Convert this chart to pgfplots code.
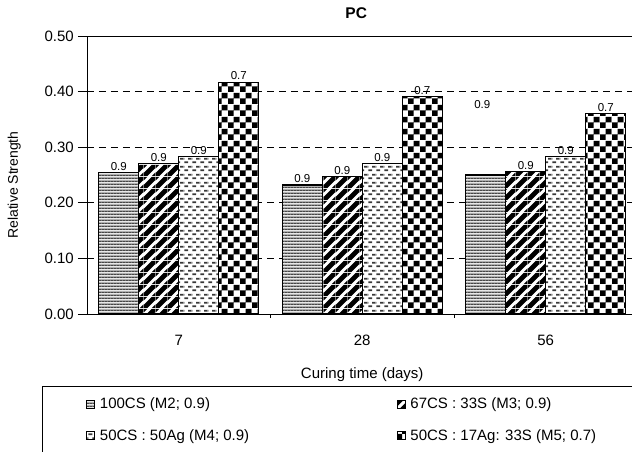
\documentclass[border=0pt]{standalone}
\usepackage{fontspec}
\setmainfont{Liberation Sans}
\usepackage{pgfplots}
\pgfplotsset{compat=1.18}
\usetikzlibrary{patterns}

\pgfdeclarepatterninherentlycolored{hlinesgray}{\pgfqpoint{0pt}{0pt}}{\pgfqpoint{3pt}{3pt}}{\pgfqpoint{3pt}{3pt}}{%
  \pgfsetfillcolor{black!25}\pgfpathrectangle{\pgfqpoint{0pt}{0pt}}{\pgfqpoint{3pt}{3pt}}\pgfusepath{fill}%
  \pgfsetfillcolor{black!72}\pgfpathrectangle{\pgfqpoint{0pt}{0pt}}{\pgfqpoint{3pt}{1.5pt}}\pgfusepath{fill}}

\pgfdeclarepatterninherentlycolored{diagbw}{\pgfqpoint{0pt}{0pt}}{\pgfqpoint{12pt}{12pt}}{\pgfqpoint{12pt}{12pt}}{%
  \pgfsetfillcolor{white}\pgfpathrectangle{\pgfqpoint{0pt}{0pt}}{\pgfqpoint{12pt}{12pt}}\pgfusepath{fill}%
  \pgfsetfillcolor{black}%
  \pgfpathmoveto{\pgfqpoint{0pt}{0pt}}\pgfpathlineto{\pgfqpoint{3.6pt}{0pt}}\pgfpathlineto{\pgfqpoint{12pt}{8.4pt}}%
  \pgfpathlineto{\pgfqpoint{12pt}{12pt}}\pgfpathlineto{\pgfqpoint{8.4pt}{12pt}}\pgfpathlineto{\pgfqpoint{0pt}{3.6pt}}\pgfpathclose
  \pgfpathmoveto{\pgfqpoint{8.4pt}{0pt}}\pgfpathlineto{\pgfqpoint{12pt}{0pt}}\pgfpathlineto{\pgfqpoint{12pt}{3.6pt}}\pgfpathclose
  \pgfpathmoveto{\pgfqpoint{0pt}{8.4pt}}\pgfpathlineto{\pgfqpoint{0pt}{12pt}}\pgfpathlineto{\pgfqpoint{3.6pt}{12pt}}\pgfpathclose
  \pgfusepath{fill}}

\pgfdeclarepatterninherentlycolored{dashdots}{\pgfqpoint{0pt}{0pt}}{\pgfqpoint{8pt}{8pt}}{\pgfqpoint{8pt}{8pt}}{%
  \pgfsetfillcolor{white}\pgfpathrectangle{\pgfqpoint{0pt}{0pt}}{\pgfqpoint{8pt}{8pt}}\pgfusepath{fill}%
  \pgfsetfillcolor{black!78}%
  \pgfpathrectangle{\pgfqpoint{0.5pt}{1pt}}{\pgfqpoint{4pt}{1.9pt}}%
  \pgfpathrectangle{\pgfqpoint{4.5pt}{5pt}}{\pgfqpoint{3.5pt}{1.9pt}}%
  \pgfpathrectangle{\pgfqpoint{0pt}{5pt}}{\pgfqpoint{0.5pt}{1.9pt}}%
  \pgfusepath{fill}}

\pgfdeclarepatterninherentlycolored{checker}{\pgfqpoint{0pt}{0pt}}{\pgfqpoint{12pt}{12pt}}{\pgfqpoint{12pt}{12pt}}{%
  \pgfsetfillcolor{white}\pgfpathrectangle{\pgfqpoint{0pt}{0pt}}{\pgfqpoint{12pt}{12pt}}\pgfusepath{fill}%
  \pgfsetfillcolor{black}%
  \pgfpathrectangle{\pgfqpoint{0pt}{0pt}}{\pgfqpoint{6pt}{6pt}}%
  \pgfpathrectangle{\pgfqpoint{6pt}{6pt}}{\pgfqpoint{6pt}{6pt}}%
  \pgfusepath{fill}}

\newcommand\tickfont{\fontsize{15}{17}\selectfont}
\newcommand\valfont{\fontsize{11.5}{13}\selectfont}
\newcommand\xlabfont{\fontsize{15}{17}\selectfont}
\newcommand\ylabfont{\fontsize{14}{16}\selectfont}
\newcommand\legfont{\fontsize{15}{17}\selectfont}
\newcommand\titfont{\fontsize{15.5}{17}\selectfont\bfseries}

\begin{document}
\begin{tikzpicture}
\begin{axis}[
  at={(0pt,0pt)}, anchor=south west,
  scale only axis, width=550.5pt, height=278pt,
  xmin=-0.5, xmax=2.5, ymin=0, ymax=0.5,
  ybar=0pt, bar width=0.218,
  axis line style={line width=0.9pt, black},
  xtick={0,1,2}, xticklabels={7,28,56},
  minor xtick={0.5,1.5},
  xtick pos=bottom, ytick pos=left,
  tick align=outside,
  major x tick style={draw=none},
  minor tick length=4pt,
  major tick length=9pt,
  tick style={black, line width=0.8pt},
  ytick={0,0.1,0.2,0.3,0.4,0.5},
  ymajorgrids,
  major grid style={black, line width=0.7pt, dash pattern=on 7pt off 5pt},
  /pgf/number format/assume math mode=true,
  yticklabel style={/pgf/number format/.cd, fixed, fixed zerofill, precision=2, /tikz/.cd,
    font=\tickfont, anchor=east, inner sep=0pt, xshift=-4pt},
  xticklabel style={font=\tickfont, anchor=north, inner sep=0pt, yshift=-11.5pt},
  title={PC},
  title style={font=\titfont, at={(axis description cs:0.489,1.061)}, anchor=center},
  xlabel={Curing time (days)},
  xlabel style={font=\xlabfont, at={(axis description cs:0.5,-0.219)}, anchor=center},
  ylabel={Relative Strength},
  ylabel style={font=\ylabfont, at={(axis description cs:-0.132,0.464)}, anchor=center, rotate=0},
  nodes near coords,
  point meta=explicit symbolic,
  every node near coord/.append style={font=\valfont, inner sep=1.5pt, black},
  legend columns=2,
  legend style={at={(axis description cs:-0.0817,-0.259)}, anchor=north west,
    draw=black, line width=0.9pt, inner xsep=44pt, inner ysep=9.5pt, font=\legfont,
    row sep=15pt, cells={anchor=west}},
  legend image code/.code={\draw[#1, line width=0.5pt] (0pt,-4pt) rectangle (8pt,4pt);},
]
\addplot[draw=black, line width=1.2pt, pattern=hlinesgray] coordinates {(0,0.254) [0.9] (1,0.232) [0.9] (2,0.250) []};
\addlegendentry{\makebox[298pt][l]{\hspace{3pt}100CS (M2; 0.9)}}
\addplot[draw=black, line width=1.2pt, pattern=diagbw] coordinates {(0,0.271) [0.9] (1,0.247) [0.9] (2,0.256) [0.9]};
\addlegendentry{\hspace{3pt}67CS : 33S (M3; 0.9)}
\addplot[draw=black, line width=1.2pt, pattern=dashdots] coordinates {(0,0.283) [0.9] (1,0.271) [0.9] (2,0.283) [0.9]};
\addlegendentry{\makebox[298pt][l]{\hspace{3pt}50CS : 50Ag (M4; 0.9)}}
\addplot[draw=black, line width=1.2pt, pattern=checker] coordinates {(0,0.417) [0.7] (1,0.391) [0.7] (2,0.361) [0.7]};
\addlegendentry{\hspace{3pt}50CS : 17Ag: 33S (M5; 0.7)}
\node[font=\valfont] at (axis cs:1.654,0.376) {0.9};
\end{axis}
\pgfresetboundingbox
\path[use as bounding box] (-87pt,-138pt) rectangle (545pt,314pt);
\end{tikzpicture}
\end{document}
